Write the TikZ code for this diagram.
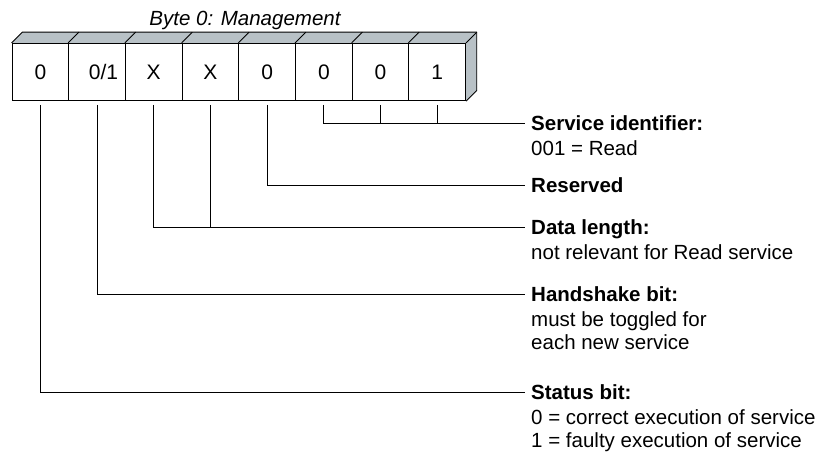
\documentclass[tikz,border=0pt]{standalone}
\usepackage{fontspec}
\setmainfont{Liberation Sans}
\usepackage{tikz}
\usetikzlibrary{positioning,calc}
\definecolor{facegray}{RGB}{184,193,198}

\tikzset{
  bitbox/.style={draw,line width=0.9pt,minimum width=56.7pt,minimum height=57.4pt,inner sep=0pt,font=\fontsize{21}{23}\selectfont},
  head/.style={anchor=west,inner xsep=6pt,inner ysep=0pt,text height=14.8pt,text depth=0pt,font=\bfseries\fontsize{20.5}{23}\selectfont},
  desc/.style={anchor=north west,align=left,inner xsep=6pt,inner ysep=0pt,font=\fontsize{20.5}{22.5}\selectfont},
  lead/.style={line width=0.9pt},
}

\begin{document}
\begin{tikzpicture}[x=1pt,y=-1pt]
\useasboundingbox (0,0) rectangle (834,452);
% the eight bits of the byte
\foreach \i/\v in {1/0,2/{\hspace*{13pt}0/1},3/X,4/X,5/0,6/0,7/0,8/1}
  \node[bitbox] (b\i) at ({12+56.7*(\i-0.5)},72) {\v};
% top and side faces
\fill[facegray] (b1.north west) -- ++(10.7,-10.7) -- ($(b8.north east)+(10.7,-10.7)$) -- (b8.north east) -- cycle;
\fill[facegray] (b8.north east) -- ++(10.7,-10.7) -- ($(b8.south east)+(10.7,-10.7)$) -- (b8.south east) -- cycle;
\draw[line width=0.9pt,line join=round] (b1.north west) -- ++(10.7,-10.7) -- ($(b8.north east)+(10.7,-10.7)$) -- ($(b8.south east)+(10.7,-10.7)$) -- (b8.south east);
\draw[line width=0.9pt] (b8.north east) -- ++(10.7,-10.7);
\foreach \i in {2,...,8}
  \draw[line width=0.9pt] (b\i.north west) -- ++(10.7,-10.7);
\node[font=\itshape\fontsize{20.5}{23}\selectfont,anchor=base] (title) at (245,26) {Byte 0: Management};

% labels
\node[head] (sid) at (525,123) {Service identifier:};
\node[desc] (sidd) at ([yshift=-10.5pt]sid.base west) {001 = Read};
\node[head] (res) at (525,185) {Reserved};
\node[head] (dl) at (525,227) {Data length:};
\node[desc] (dld) at ([yshift=-10.5pt]dl.base west) {not relevant for Read service};
\node[head] (hs) at (525,294) {Handshake bit:};
\node[desc] (hsd) at ([yshift=-10.5pt]hs.base west) {must be toggled for\\each new service};
\node[head] (st) at (525,392) {Status bit:};
\node[desc] (std) at ([yshift=-10.5pt]st.base west) {0 = correct execution of service\\1 = faulty execution of service};

% lead lines
\draw[lead] ([yshift=-3.6pt]b6.south) |- (sid.west);
\draw[lead] ([yshift=-3.6pt]b7.south) -- (b7.south |- sid.west);
\draw[lead] ([yshift=-3.6pt]b8.south) -- (b8.south |- sid.west);
\draw[lead] ([yshift=-3.6pt]b5.south) |- (res.west);
\draw[lead] ([yshift=-3.6pt]b3.south) |- (dl.west);
\draw[lead] ([yshift=-3.6pt]b4.south) -- (b4.south |- dl.west);
\draw[lead] ([yshift=-3.6pt]b2.south) |- (hs.west);
\draw[lead] ([yshift=-3.6pt]b1.south) |- (st.west);
\end{tikzpicture}
\end{document}
